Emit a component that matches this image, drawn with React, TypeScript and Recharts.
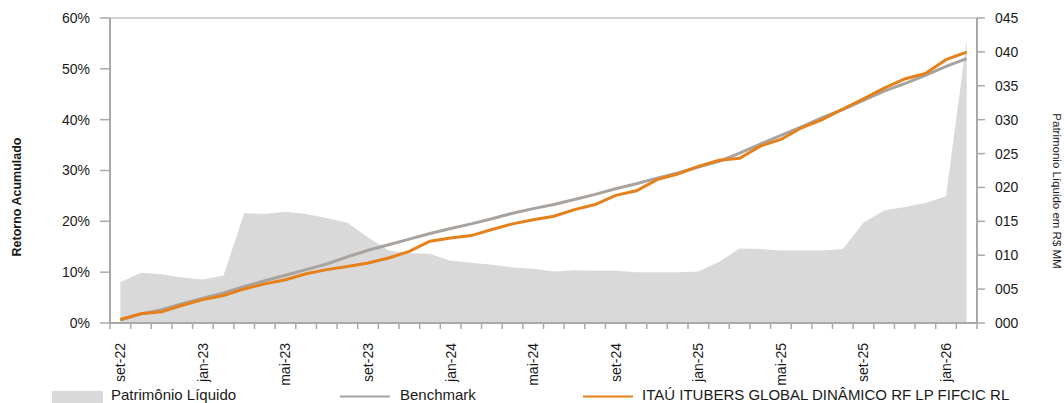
import React from 'react';
import {
  ComposedChart,
  Area,
  Line,
  XAxis,
  YAxis,
  ReferenceLine,
} from 'recharts';

const months = [
  'set-22', 'out-22', 'nov-22', 'dez-22', 'jan-23', 'fev-23', 'mar-23', 'abr-23',
  'mai-23', 'jun-23', 'jul-23', 'ago-23', 'set-23', 'out-23', 'nov-23', 'dez-23',
  'jan-24', 'fev-24', 'mar-24', 'abr-24', 'mai-24', 'jun-24', 'jul-24', 'ago-24',
  'set-24', 'out-24', 'nov-24', 'dez-24', 'jan-25', 'fev-25', 'mar-25', 'abr-25',
  'mai-25', 'jun-25', 'jul-25', 'ago-25', 'set-25', 'out-25', 'nov-25', 'dez-25',
  'jan-26', 'fev-26',
];

// retorno acumulado do fundo (%)
const fundo = [
  0.7, 1.8, 2.2, 3.5, 4.6, 5.4, 6.7, 7.7, 8.5, 9.7, 10.5, 11.1, 11.8, 12.8, 14.1, 16.1,
  16.7, 17.2, 18.4, 19.5, 20.3, 21.0, 22.3, 23.3, 25.1, 26.0, 28.2, 29.3, 30.8, 32.0,
  32.4, 34.8, 36.1, 38.4, 40.0, 42.1, 44.1, 46.2, 48.0, 49.1, 51.8, 53.3,
];

// benchmark (%)
const benchmark = [
  0.6, 1.8, 2.6, 3.8, 4.9, 5.9, 7.2, 8.3, 9.4, 10.5, 11.6, 13.0, 14.3, 15.4, 16.5, 17.6,
  18.6, 19.5, 20.5, 21.6, 22.5, 23.3, 24.3, 25.3, 26.4, 27.4, 28.5, 29.5, 30.7, 31.8,
  33.4, 35.2, 36.9, 38.6, 40.4, 42.0, 43.8, 45.6, 47.1, 48.7, 50.5, 52.0,
];

// patrimonio liquido (R$ MM)
const patrimonio = [
  6.0, 7.4, 7.2, 6.7, 6.4, 7.0, 16.2, 16.1, 16.4, 16.1, 15.5, 14.8, 12.6, 10.7, 10.3, 10.2,
  9.2, 8.9, 8.6, 8.2, 8.0, 7.6, 7.8, 7.7, 7.7, 7.5, 7.5, 7.5, 7.6, 9.0,
  11.0, 10.9, 10.7, 10.7, 10.7, 10.9, 14.8, 16.6, 17.1, 17.7, 18.7, 41.8,
];

const leftTicks = [0, 10, 20, 30, 40, 50, 60];
const rightTicks = [0, 5, 10, 15, 20, 25, 30, 35, 40, 45];

const data = months.map((m, i) => ({
  i,
  mes: m,
  fundo: fundo[i],
  benchmark: benchmark[i],
  pl: patrimonio[i],
}));

// labels a cada 4 meses, marcas entre as categorias
const labelIdx = months.map((_, i) => i).filter((i) => i % 4 === 0);
const boundaries = [...months.map((_, i) => i - 0.5), months.length - 0.5];
const xTicks = [...boundaries, ...labelIdx].sort((a, b) => a - b);

const FONT = '"Liberation Sans", Arial, sans-serif';
const AXIS = '#a9a9a9';
const ORANGE = '#E5801A';
const GRAY_LINE = '#A8A39E';
const AREA = '#d9d9d9';
const TEXT = '#1a1a1a';

const MonthTick = (props: any) => {
  const { x, y, payload } = props;
  const v = payload.value;
  if (!Number.isInteger(v)) {
    return <line x1={x} x2={x} y1={y} y2={y + 6} stroke={AXIS} strokeWidth={1.5} />;
  }
  const ty = y + 20;
  return (
    <text
      x={x}
      y={ty}
      transform={`rotate(-90 ${x} ${ty})`}
      textAnchor="end"
      dominantBaseline="central"
      fontSize={14}
      fontFamily={FONT}
      fill={TEXT}
    >
      {months[v]}
    </text>
  );
};

export default function App() {
  return (
    <div
      style={{
        position: 'absolute',
        left: 0,
        top: 0,
        width: 1064,
        height: 403,
        overflow: 'hidden',
        background: '#fff',
      }}
    >
      <ComposedChart
        width={1064}
        height={403}
        data={data}
        margin={{ top: 18, right: 0, bottom: 0, left: 0 }}
      >
        <XAxis
          dataKey="i"
          type="number"
          domain={[-0.5, months.length - 0.5]}
          ticks={xTicks}
          interval={0}
          tick={<MonthTick />}
          tickLine={false}
          tickSize={0}
          tickMargin={0}
          height={80}
          axisLine={{ stroke: AXIS, strokeWidth: 2 }}
        />
        <YAxis
          yAxisId="left"
          domain={[0, 60]}
          ticks={leftTicks}
          interval={0}
          width={110}
          tickFormatter={(v) => `${v}%`}
          tick={{ fontSize: 14, fontFamily: FONT, fill: TEXT }}
          tickSize={10}
          tickMargin={10}
          tickLine={{ stroke: AXIS, strokeWidth: 1.5 }}
          axisLine={{ stroke: AXIS, strokeWidth: 2 }}
        />
        <YAxis
          yAxisId="pl"
          orientation="right"
          domain={[0, 45]}
          ticks={rightTicks}
          interval={0}
          width={87}
          tickFormatter={(v) => String(v).padStart(3, '0')}
          tick={{ fontSize: 14, fontFamily: FONT, fill: TEXT, textAnchor: 'start' }}
          tickSize={8}
          tickMargin={10}
          tickLine={{ stroke: AXIS, strokeWidth: 1.5 }}
          axisLine={{ stroke: AXIS, strokeWidth: 2 }}
        />
        <ReferenceLine yAxisId="left" y={60} stroke="#c4c4c4" strokeWidth={1.5} />
        <Area
          yAxisId="pl"
          type="linear"
          dataKey="pl"
          stroke="none"
          fill={AREA}
          fillOpacity={1}
          isAnimationActive={false}
        />
        <Line
          yAxisId="left"
          type="linear"
          dataKey="benchmark"
          stroke={GRAY_LINE}
          strokeWidth={3}
          dot={false}
          isAnimationActive={false}
        />
        <Line
          yAxisId="left"
          type="linear"
          dataKey="fundo"
          stroke={ORANGE}
          strokeWidth={3}
          dot={false}
          isAnimationActive={false}
        />
      </ComposedChart>
      <svg
        width={1064}
        height={403}
        style={{ position: 'absolute', left: 0, top: 0, pointerEvents: 'none' }}
      >
        <text
          x={17}
          y={197}
          transform="rotate(-90 17 197)"
          textAnchor="middle"
          dominantBaseline="central"
          fontSize={12.5}
          fontWeight="bold"
          fontFamily={FONT}
          fill={TEXT}
        >
          Retorno Acumulado
        </text>
        <text
          x={1057}
          y={191}
          transform="rotate(90 1057 191)"
          textAnchor="middle"
          dominantBaseline="central"
          fontSize={11.5}
          fontFamily={FONT}
          fill={TEXT}
        >
          Patrimonio Líquido em R$ MM
        </text>
        <rect x={52} y={391} width={51} height={12} fill={AREA} />
        <text x={111} y={400} fontSize={15} fontFamily={FONT} fill={TEXT}>
          Patrimônio Líquido
        </text>
        <line x1={340} x2={390} y1={396.5} y2={396.5} stroke={GRAY_LINE} strokeWidth={2} />
        <text x={400} y={400} fontSize={15} fontFamily={FONT} fill={TEXT}>
          Benchmark
        </text>
        <line x1={583} x2={633} y1={396.5} y2={396.5} stroke={ORANGE} strokeWidth={2} />
        <text x={642} y={400} fontSize={15} fontFamily={FONT} fill={TEXT}>
          ITAÚ ITUBERS GLOBAL DINÂMICO RF LP FIFCIC RL
        </text>
      </svg>
    </div>
  );
}
